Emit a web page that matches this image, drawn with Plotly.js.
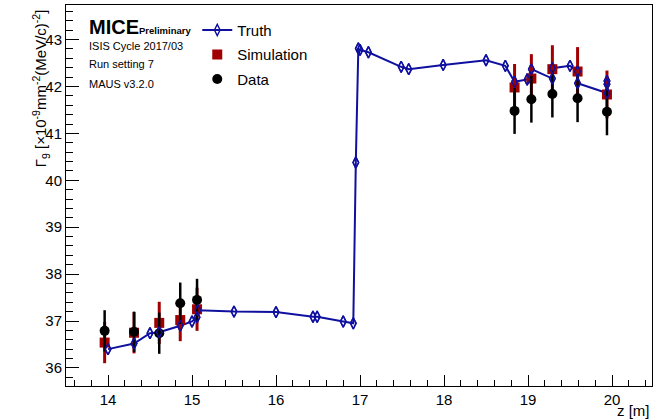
<!DOCTYPE html>
<html>
<head>
<meta charset="utf-8">
<script src="https://cdn.plot.ly/plotly-3.0.1.min.js"></script>
<style>
  html, body { margin: 0; padding: 0; background: #ffffff; }
  #chart { width: 654px; height: 420px; }
</style>
</head>
<body>
<div id="chart"></div>
<script>
// Truth (MC truth) phase-space density along the beamline
const truthZ = [14.00, 14.31, 14.50, 14.61, 14.86, 15.00, 15.06, 15.07, 15.50, 16.00,
                16.44, 16.49, 16.80, 16.92, 16.95, 16.98, 17.00, 17.10, 17.49, 17.58,
                17.99, 18.50, 18.73, 18.84, 18.99, 19.04, 19.29, 19.29, 19.50, 19.59,
                19.59, 19.94, 19.94, 19.94];
const truthG = [36.40, 36.52, 36.74, 36.76, 36.90, 36.99, 37.08, 37.23, 37.20, 37.19,
                37.09, 37.09, 36.99, 36.95, 40.38, 42.81, 42.78, 42.73, 42.42, 42.37,
                42.46, 42.56, 42.44, 42.10, 42.15, 42.37, 42.17, 42.39, 42.44, 42.32,
                42.07, 41.86, 42.05, 42.12];

// Reconstructed simulation at the tracker stations
const simZ   = [13.96, 14.31, 14.61, 14.86, 15.06, 18.84, 19.04, 19.29, 19.59, 19.94];
const simG   = [36.54, 36.75, 36.96, 37.02, 37.25, 41.98, 42.17, 42.37, 42.32, 41.83];
const simErr = [0.44, 0.44, 0.45, 0.45, 0.46, 0.50, 0.52, 0.51, 0.52, 0.51];

// Measured data at the tracker stations
const dataZ   = [13.96, 14.31, 14.61, 14.86, 15.06, 18.84, 19.04, 19.29, 19.59, 19.94];
const dataG   = [36.79, 36.77, 36.74, 37.38, 37.45, 41.48, 41.73, 41.84, 41.75, 41.46];
const dataErr = [0.44, 0.43, 0.44, 0.44, 0.45, 0.49, 0.50, 0.50, 0.51, 0.50];

// Axis ticks
const xTicks = [14, 15, 16, 17, 18, 19, 20];
const yTicks = [36, 37, 38, 39, 40, 41, 42, 43];

const infoLines = ['ISIS Cycle 2017/03', 'Run setting 7', 'MAUS v3.2.0'];

const BLUE = '#1010a0';
const RED = '#a00000';
const FONT = 'Liberation Sans, Arial, sans-serif';

const truthMarker = { symbol: 'diamond-tall-open', size: 8, color: BLUE, line: { color: BLUE, width: 1.4 } };

const traces = [
  {
    name: 'Truth', legendgroup: 'truth', x: truthZ, y: truthG, type: 'scatter', mode: 'lines+markers',
    line: { color: BLUE, width: 2 }, marker: truthMarker
  },
  {
    name: 'Simulation', legendgroup: 'sim', x: simZ, y: simG, type: 'scatter', mode: 'markers',
    marker: { symbol: 'square', size: 10, color: RED },
    error_y: { type: 'data', array: simErr, visible: true, color: RED, thickness: 3, width: 0 }
  },
  {
    name: 'Data', legendgroup: 'data', x: dataZ, y: dataG, type: 'scatter', mode: 'markers',
    marker: { symbol: 'circle', size: 10, color: '#000000' },
    error_y: { type: 'data', array: dataErr, visible: true, color: '#000000', thickness: 2.5, width: 0 }
  },
  {
    // truth markers redrawn above the error bars
    name: 'Truth', legendgroup: 'truth', x: truthZ, y: truthG, type: 'scatter', mode: 'markers',
    marker: truthMarker, showlegend: false, hoverinfo: 'skip'
  }
];

const annotations = [
  {
    xref: 'paper', yref: 'paper', x: 0.036, y: 0.943, xanchor: 'left', yanchor: 'middle',
    showarrow: false,
    text: "<b><span style='font-size:20px'>MICE</span><span style='font-size:9.5px'>Preliminary</span></b>",
    font: { family: FONT, size: 20, color: '#000' }
  },
  {
    xref: 'paper', yref: 'paper', x: 1, y: -0.063, xanchor: 'right', yanchor: 'middle',
    showarrow: false, text: 'z [m]', font: { family: FONT, size: 15, color: '#000' }
  },
  {
    xref: 'paper', yref: 'paper', x: -0.044, y: 0.782, xanchor: 'center', yanchor: 'middle',
    showarrow: false, textangle: -90,
    text: 'Γ<sub>9</sub> [×10<sup>-9</sup>mm<sup>-2</sup>(MeV/c)<sup>-2</sup>]',
    font: { family: FONT, size: 15, color: '#000' }
  }
];
const infoY = [0.892, 0.845, 0.793];
infoLines.forEach((t, i) => annotations.push({
  xref: 'paper', yref: 'paper', x: 0.036, y: infoY[i], xanchor: 'left', yanchor: 'middle',
  showarrow: false, text: t, font: { family: FONT, size: 11, color: '#000' }
}));

const layout = {
  width: 654, height: 420,
  margin: { l: 66, r: 2, t: 5, b: 34 },
  paper_bgcolor: '#ffffff', plot_bgcolor: '#ffffff',
  font: { family: FONT, size: 15, color: '#000' },
  showlegend: true,
  legend: {
    x: 0.224, y: 0.977, xanchor: 'left', yanchor: 'top',
    bgcolor: 'rgba(0,0,0,0)', font: { family: FONT, size: 15, color: '#000' },
    traceorder: 'grouped', tracegroupgap: 2, itemwidth: 30
  },
  xaxis: {
    range: [13.5, 20.476], tickvals: xTicks, ticktext: xTicks.map(String),
    ticks: 'inside', ticklen: 11, tickwidth: 1, tickcolor: '#000',
    minor: { dtick: 0.2, ticks: 'inside', ticklen: 6, tickwidth: 1, tickcolor: '#000', showgrid: false },
    showline: true, linecolor: '#000', linewidth: 1, mirror: true,
    showgrid: false, zeroline: false, tickfont: { family: FONT, size: 15, color: '#000' }
  },
  yaxis: {
    range: [35.614, 43.738], tickvals: yTicks, ticktext: yTicks.map(String),
    ticks: 'inside', ticklen: 13, tickwidth: 1, tickcolor: '#000',
    minor: { dtick: 0.2, ticks: 'inside', ticklen: 7, tickwidth: 1, tickcolor: '#000', showgrid: false },
    showline: true, linecolor: '#000', linewidth: 1, mirror: true,
    showgrid: false, zeroline: false, tickfont: { family: FONT, size: 15, color: '#000' }
  },
  annotations: annotations
};

Plotly.newPlot('chart', traces, layout, { displayModeBar: false, staticPlot: true });
</script>
</body>
</html>
